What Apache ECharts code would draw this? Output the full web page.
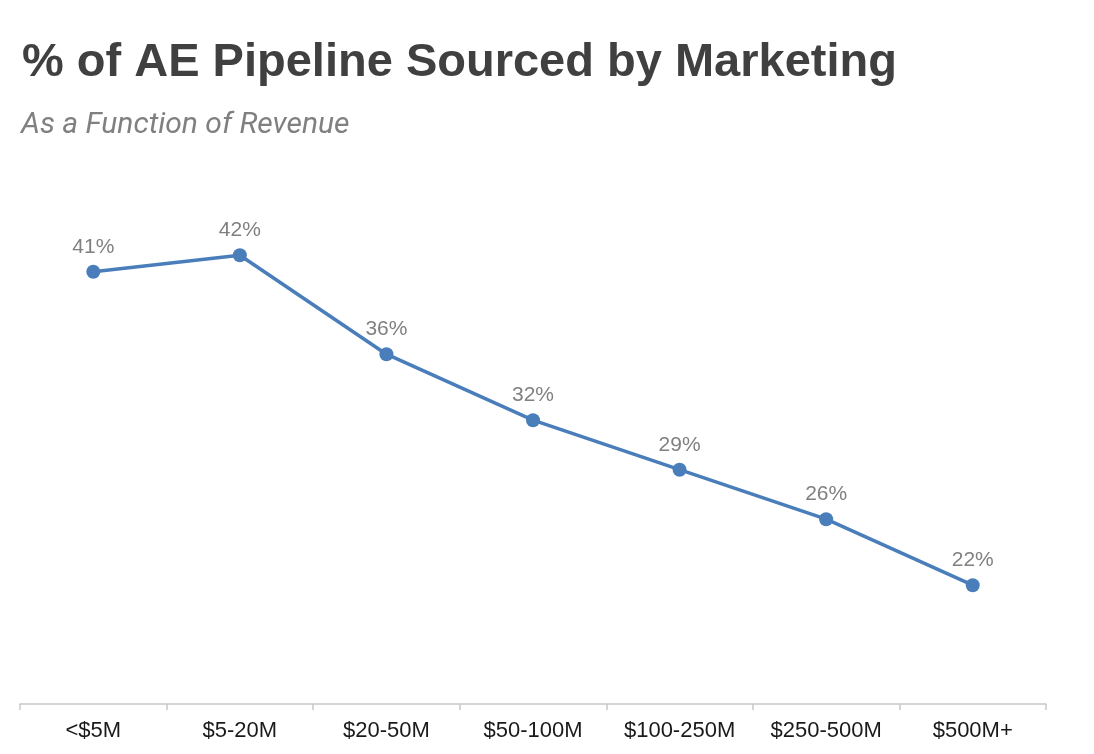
<!DOCTYPE html>
<html>
<head>
<meta charset="utf-8">
<script src="https://cdn.jsdelivr.net/npm/echarts@6/dist/echarts.min.js"></script>
<style>
	html, body { margin: 0; padding: 0; background: #fff; }
	#main { width: 1094px; height: 754px; }
</style>
</head>
<body>
<div id="main"></div>
<script>
var categories = ['<$5M', '$5-20M', '$20-50M', '$50-100M', '$100-250M', '$250-500M', '$500M+'];
var pctValues = [41, 42, 36, 32, 29, 26, 22];

var chart = echarts.init(document.getElementById('main'));

var option = {
	backgroundColor: '#fff',
	title: [{
		text: '% of AE Pipeline Sourced by Marketing',
		left: 17,
		top: 35,
		textStyle: {
			fontFamily: 'Liberation Sans, Arial, sans-serif',
			fontWeight: 'bold',
			fontSize: 47,
			color: '#404040'
		}
	}, {
		text: 'As a Function of Revenue',
		left: 16,
		top: 105,
		textStyle: {
			fontFamily: 'Roboto, sans-serif',
			fontStyle: 'italic',
			fontWeight: 'normal',
			fontSize: 30,
			color: '#808080'
		}
	}],
	grid: {
		left: 20,
		right: 48,
		top: 209,
		bottom: 50
	},
	xAxis: {
		type: 'category',
		data: categories,
		axisLine: {
			lineStyle: { color: '#c8c8c8', width: 1.5 }
		},
		axisTick: {
			show: true,
			length: 6,
			lineStyle: { color: '#c8c8c8', width: 1.5 }
		},
		axisLabel: {
			color: '#1a1a1a',
			fontFamily: 'Liberation Sans, Arial, sans-serif',
			fontSize: 22,
			margin: 16
		}
	},
	yAxis: {
		type: 'value',
		min: 14.8,
		max: 44.8,
		show: false,
		splitLine: { show: false }
	},
	series: [{
		type: 'line',
		data: pctValues,
		symbol: 'circle',
		symbolSize: 14,
		lineStyle: { color: '#4a7ebb', width: 3.5 },
		itemStyle: { color: '#4a7ebb' },
		label: {
			show: true,
			position: 'top',
			distance: 7,
			formatter: '{c}%',
			color: '#808080',
			fontFamily: 'Liberation Sans, Arial, sans-serif',
			fontSize: 21
		}
	}]
};

chart.setOption(option);
window.onresize = function() {
	chart.resize();
};
</script>
</body>
</html>
